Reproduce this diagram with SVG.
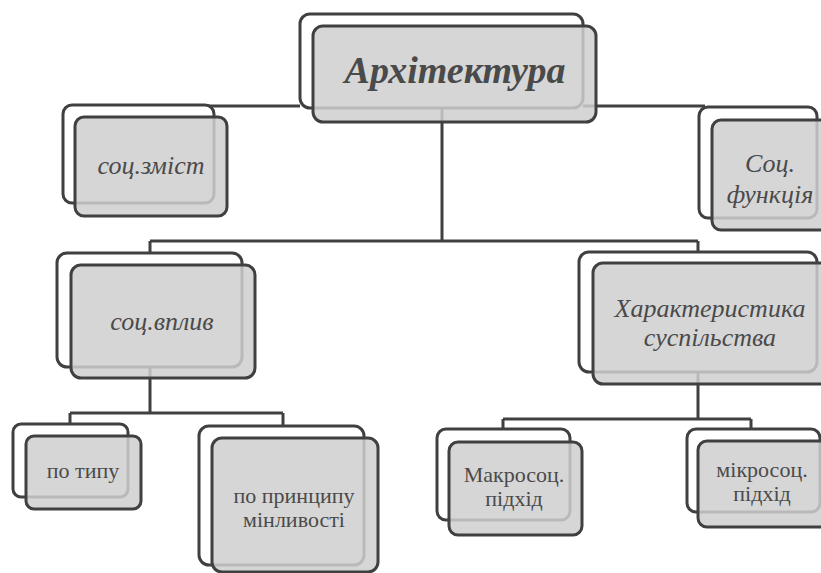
<svg xmlns="http://www.w3.org/2000/svg" width="821" height="573" viewBox="0 0 821 573">
<style>
.back{fill:#ffffff;stroke:#404040;stroke-width:3}
.front{fill:#cfcfcf;fill-opacity:0.85;stroke:#404040;stroke-width:3}
.conn{fill:none;stroke:#404040;stroke-width:3}
.t{font-family:"Liberation Serif","Times New Roman",serif;fill:#4a4a4a;text-anchor:middle}
.it{font-style:italic;font-size:26px}
.up{font-size:22px}
</style>
<rect width="821" height="573" fill="#ffffff"/>
<g id="connectors">
<path class="conn" d="M300,106 H200"/>
<path class="conn" d="M583,106 H705"/>
<path class="conn" d="M442,108 V241 M150,241 H698 M150,241 V253 M698,241 V252"/>
<path class="conn" d="M150,367 V413 M70,413 H283 M70,413 V424 M283,413 V426"/>
<path class="conn" d="M698,372 V419 M503,419 H751 M503,419 V429 M751,419 V429"/>
</g>
<g id="node-arch">
<rect class="back" x="300" y="14" width="283" height="94" rx="10"/>
<rect class="front" x="313" y="26" width="283" height="96" rx="10"/>
<text class="t" x="455" y="83" style="font-size:38px;font-style:italic;font-weight:bold">Архітектура</text>
</g>
<g id="node-zmist">
<rect class="back" x="63" y="105" width="151" height="98" rx="9"/>
<rect class="front" x="75" y="117" width="152" height="99" rx="9"/>
<text class="t it" x="151" y="174">соц.зміст</text>
</g>
<g id="node-funk">
<rect class="back" x="699" y="107" width="118" height="111" rx="9"/>
<rect class="front" x="712" y="120" width="120" height="110" rx="9"/>
<text class="t it" x="770" y="172">Соц.</text>
<text class="t it" x="770" y="203">функція</text>
</g>
<g id="node-vplyv">
<rect class="back" x="57" y="253" width="185" height="114" rx="10"/>
<rect class="front" x="71" y="265" width="184" height="113" rx="10"/>
<text class="t it" x="162" y="330">соц.вплив</text>
</g>
<g id="node-kharakt">
<rect class="back" x="579" y="252" width="238" height="120" rx="10"/>
<rect class="front" x="593" y="263" width="240" height="121" rx="10"/>
<text class="t it" x="710" y="317">Характеристика</text>
<text class="t it" x="710" y="346">суспільства</text>
</g>
<g id="node-typ">
<rect class="back" x="13" y="424" width="115" height="73" rx="8"/>
<rect class="front" x="26" y="436" width="115" height="73" rx="8"/>
<text class="t up" x="83" y="478">по типу</text>
</g>
<g id="node-pryntsyp">
<rect class="back" x="199" y="426" width="165" height="139" rx="10"/>
<rect class="front" x="212" y="438" width="166" height="134" rx="10"/>
<text class="t up" x="294" y="503">по принципу</text>
<text class="t up" x="294" y="527">мінливості</text>
</g>
<g id="node-makro">
<rect class="back" x="437" y="429" width="133" height="91" rx="9"/>
<rect class="front" x="449" y="442" width="133" height="93" rx="9"/>
<text class="t up" x="514" y="482">Макросоц.</text>
<text class="t up" x="514" y="506">підхід</text>
</g>
<g id="node-mikro">
<rect class="back" x="687" y="429" width="133" height="83" rx="9"/>
<rect class="front" x="698" y="441" width="134" height="86" rx="9"/>
<text class="t up" x="762" y="477">мікросоц.</text>
<text class="t up" x="762" y="501">підхід</text>
</g>
</svg>
